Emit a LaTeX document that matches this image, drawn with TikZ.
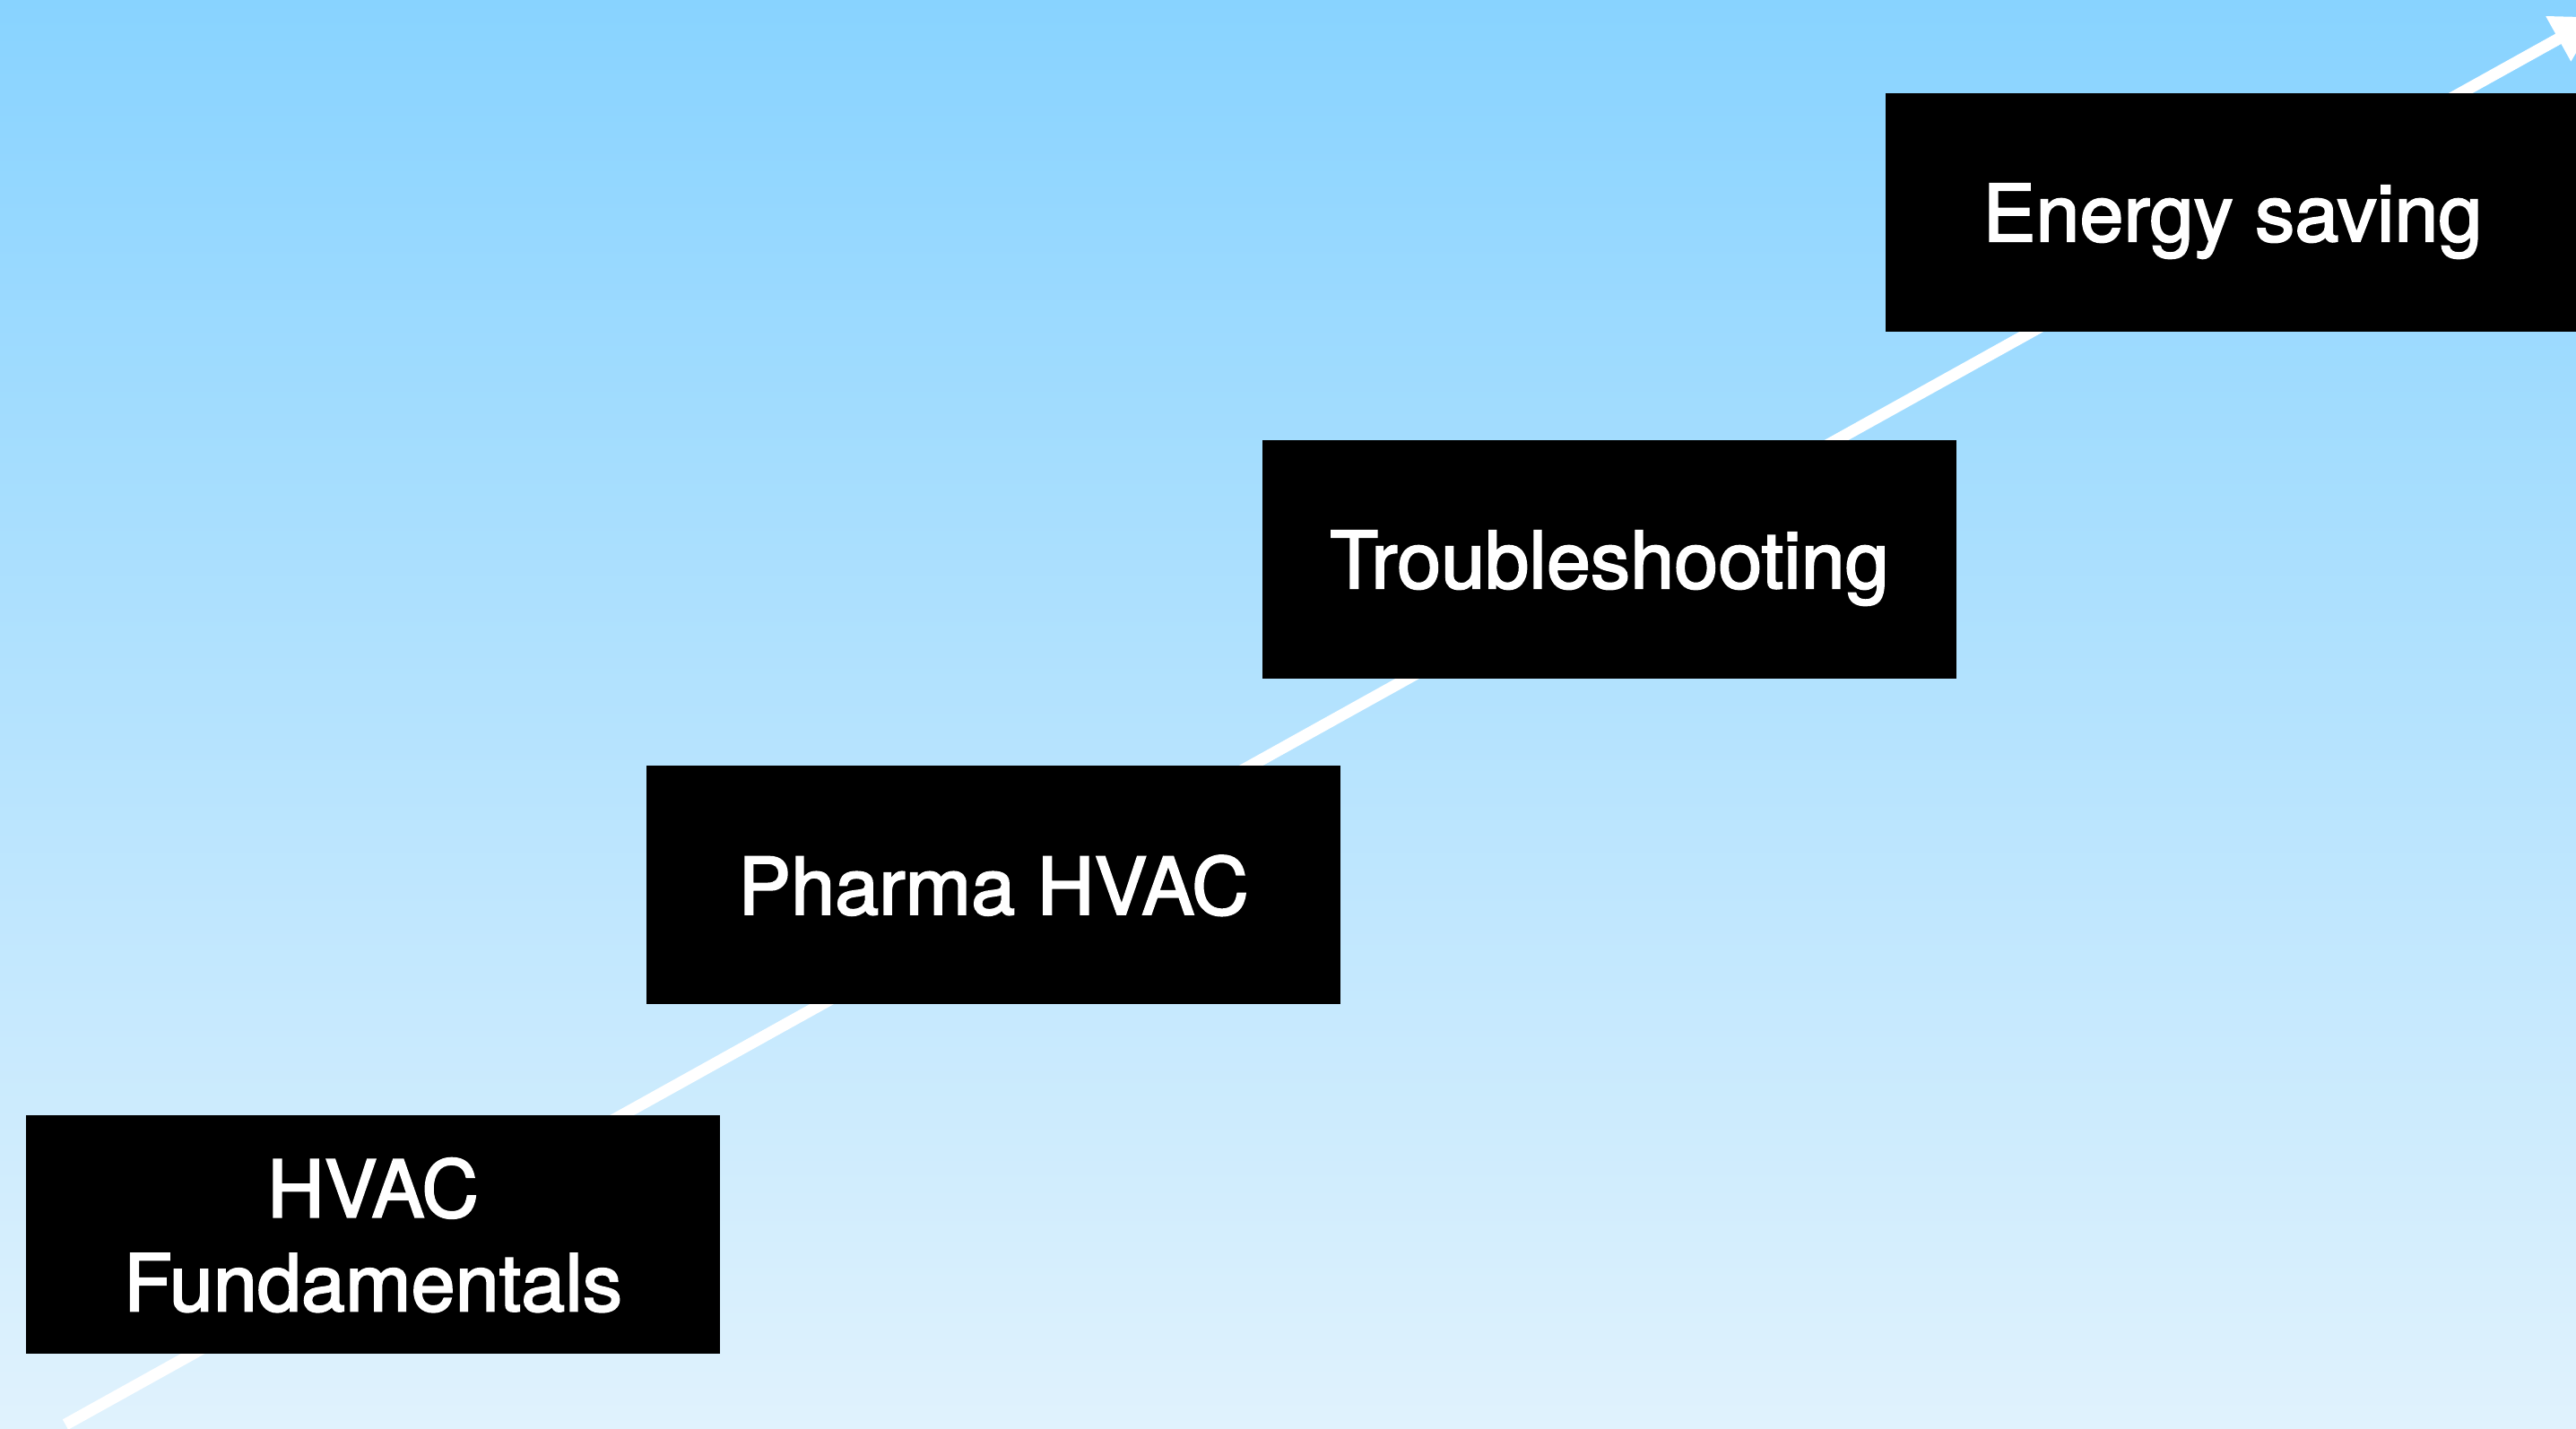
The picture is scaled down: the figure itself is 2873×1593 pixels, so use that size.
\documentclass[tikz,border=0pt]{standalone}
\usepackage{fontspec}
\setmainfont{TeX Gyre Heros}[FakeBold=2.2]
\usetikzlibrary{arrows.meta}
\definecolor{skytop}{RGB}{136,211,255}
\definecolor{skybot}{RGB}{224,242,253}
\tikzset{
  stepbox/.style={fill=black, draw=none, text=white, minimum width=7.73cm, minimum height=2.66cm,
    inner sep=0pt, align=center, text depth=0pt,
    font=\fontsize{25.1pt}{29.8pt}\selectfont},
  path line/.style={draw=white, line width=0.13cm, line cap=butt,
    -{Triangle[length=0.5cm,width=0.54cm]}}
}
\begin{document}
\begin{tikzpicture}[x=0.01cm,y=-0.01cm]
\useasboundingbox (0,0) rectangle (2873,1593);
\clip (0,0) rectangle (2873,1593);
\shade[top color=skytop, bottom color=skybot] (0,0) rectangle (2873,1593);
\coordinate (start) at (73,1589);
\coordinate (tip) at (2897,19);
\draw[path line] (start) -- (tip);
\node[stepbox] (fund) at (416,1377) {HVAC\\Fundamentals};
\node[stepbox] (pharma) at (1108,987) {Pharma HVAC};
\node[stepbox] (trouble) at (1795,624) {Troubleshooting};
\node[stepbox] (energy) at (2490,237) {Energy saving};
\end{tikzpicture}
\end{document}
